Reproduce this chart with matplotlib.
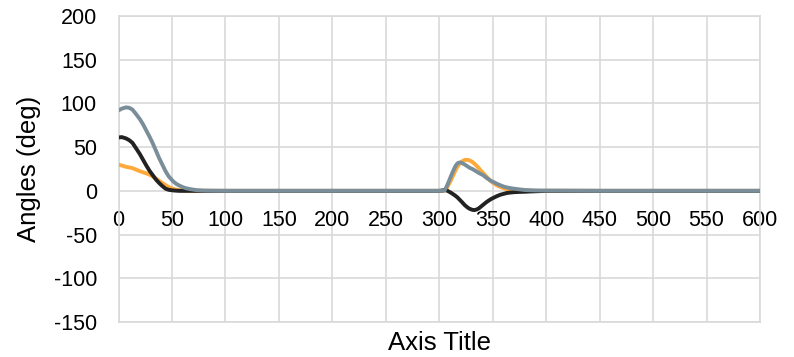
import matplotlib
matplotlib.use("Agg")
import matplotlib.pyplot as plt

plt.rcParams['font.family'] = ['Liberation Sans', 'DejaVu Sans']
plt.rcParams['axes.unicode_minus'] = False

# Time samples shared by all three angle traces
time_s = [0, 3, 7, 10, 13, 16, 20, 23, 26, 29, 32, 35, 38, 41, 44, 47, 51, 54, 57, 60,
          63, 67, 72, 76, 80, 90, 100,
          150, 200, 250,
          300, 303, 305, 307, 310, 312, 315, 317, 319, 321, 324, 327, 329, 331, 333, 335,
          337, 339, 341, 344, 347, 349, 351, 354, 357, 360, 363, 366, 370, 375, 380, 385,
          390, 400,
          450, 500, 550, 600]

angle_gray = [92, 94, 95.5, 95, 93, 88.5, 82, 76, 69, 62, 54.5, 46, 37.5, 30, 22.5, 16.5,
              11, 8, 6, 4.3, 3, 2, 1, 0.6, 0.3, 0.1, 0,
              0, 0, 0,
              0, 0, 0.5, 5, 14, 20, 28, 31.5, 32.5, 32, 30, 27.5, 26, 25, 23.5, 22,
              20.5, 19.2, 18, 15, 12.5, 11, 10, 8, 6.5, 5, 4, 3.2, 2.5, 1.7, 1, 0.7,
              0.5, 0.3,
              0, 0, 0, 0]

angle_black = [61, 61.5, 60, 58, 55, 49.5, 42, 35.5, 29, 23, 18, 13, 9, 5.5, 2.5, 1.2,
               0.5, 0.2, 0, 0, 0, 0, 0, 0, 0, 0, 0,
               0, 0, 0,
               0, 0.5, 1, 0.5, -1.5, -3, -5.5, -7.5, -10, -12.5, -16.5, -19.5, -20.8,
               -21.7, -22, -21.3, -20, -18, -16, -13, -10.5, -9, -7.8, -6, -4.5, -3.5,
               -2.5, -2, -1.5, -1.2, -1, -0.7, -0.5, 0,
               0, 0, 0, 0]

angle_orange = [30, 29, 27.5, 26.8, 26, 24.5, 22.5, 21.2, 20, 18.5, 16.5, 14, 11.5, 9,
                6.5, 4.3, 2.3, 1.4, 0.8, 0.4, 0.2, 0.1, 0, 0, 0, 0, 0,
                0, 0, 0,
                0, 0, 0, 3, 10, 15, 23, 27.5, 31, 33.5, 35.5, 35.3, 34.5, 33, 31, 28.5,
                26, 23, 20.5, 16.5, 12.5, 10.5, 8.5, 6.3, 4.5, 3.2, 2, 1.5, 1, 0.7, 0.5,
                0.2, 0, 0,
                0, 0, 0, 0]

x_ticks = list(range(0, 601, 50))
y_ticks = list(range(-150, 201, 50))

grid_color = '#D9D9D9'

fig = plt.figure(figsize=(7.94, 3.57), dpi=100)
ax = fig.add_axes([118.5 / 794, 35 / 357, 641.5 / 794, 306 / 357])

line_kw = dict(lw=2.8, solid_capstyle='round', solid_joinstyle='round')
ax.plot(time_s, angle_orange, color='#FFA93A', zorder=3, **line_kw)
ax.plot(time_s, angle_black, color='#222222', zorder=4, **line_kw)
ax.plot(time_s, angle_gray, color='#7A8E99', zorder=5, **line_kw)

ax.set_xlim(0, 600)
ax.set_ylim(-150, 200)
ax.set_xticks(x_ticks)
ax.set_yticks(y_ticks)
ax.set_axisbelow(True)
ax.grid(True, color=grid_color, lw=1.2)

for side in ('top', 'right', 'left'):
    ax.spines[side].set_color(grid_color)
    ax.spines[side].set_linewidth(1.2)
# horizontal axis crosses at zero, its labels sit below that line
ax.spines['bottom'].set_position(('data', 0))
ax.spines['bottom'].set_color('none')
ax.axhline(-150, color=grid_color, lw=1.2, clip_on=False, zorder=1)

ax.tick_params(axis='x', length=0, pad=14, labelsize=15.5, labelcolor='black')
ax.tick_params(axis='y', length=0, pad=15.5, labelsize=15.5, labelcolor='black')

ax.set_xlabel('Axis Title', fontsize=18.5)
ax.xaxis.label.set_va('center')
ax.xaxis.set_label_coords(0.5, -0.0686)

ax.set_ylabel('Angles (deg)', fontsize=18.5)
ax.yaxis.label.set_va('center')
ax.yaxis.label.set_ha('center')
ax.yaxis.set_label_coords(-0.1395, 0.5)

fig.savefig('out.png', dpi=100)
